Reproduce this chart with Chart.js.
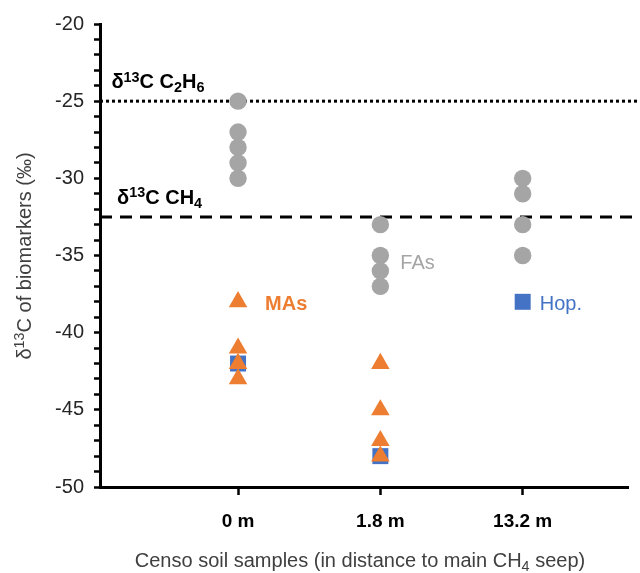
<!DOCTYPE html>
<html>
<head>
<meta charset="utf-8">
<script src="https://cdn.jsdelivr.net/npm/chart.js@4.4.1/dist/chart.umd.min.js"></script>
<style>
  html, body { margin: 0; padding: 0; background: #fff; }
  #wrap { width: 640px; height: 573px; }
</style>
</head>
<body>
<div id="wrap"><canvas id="chart"></canvas></div>
<script>
// Dados
const sites = ["0 m", "1.8 m", "13.2 m"];
const sitePos = [1, 2, 3];

const faSite = [1, 1, 1, 1, 1, 2, 2, 2, 2, 3, 3, 3, 3];
const faValues = [-25, -27, -28, -29, -30, -33, -35, -36, -37, -30, -31, -33, -35];

const maSite = [1, 1, 1, 1, 2, 2, 2, 2];
const maValues = [-38, -41, -42, -43, -42, -45, -47, -48];

const hopSite = [1, 2, 3];
const hopValues = [-42, -48, -38];

const ethaneLine = -25;
const methaneLine = -32.5;

const yTicks = [-20, -25, -30, -35, -40, -45, -50];

const GRAY = "#A5A5A5";
const ORANGE = "#ED7D31";
const BLUE = "#4472C4";
const FONT = "'Liberation Sans', Arial, sans-serif";
const X_MIN = 0.03;
const X_MAX = 3.74;
const LINE_END = 3.82; // linhas de referencia passam um pouco do eixo

function pontos(xs, ys) {
  return xs.map((x, i) => ({ x: x, y: ys[i] }));
}

// Desenha texto com sobrescrito / subscrito
function larguraRica(ctx, partes, size, weight) {
  let total = 0;
  partes.forEach(([t, modo]) => {
    const s = modo ? size * 0.72 : size;
    ctx.font = `${weight} ${s}px ${FONT}`;
    total += ctx.measureText(t).width;
  });
  return total;
}

function textoRico(ctx, partes, x, y, size, weight, color) {
  ctx.save();
  ctx.fillStyle = color;
  ctx.textBaseline = "alphabetic";
  ctx.textAlign = "left";
  let cx = x;
  partes.forEach(([t, modo]) => {
    const s = modo ? size * 0.72 : size;
    ctx.font = `${weight} ${s}px ${FONT}`;
    let dy = 0;
    if (modo === "sup") dy = -size * 0.33;
    if (modo === "sub") dy = size * 0.18;
    ctx.fillText(t, cx, y + dy);
    cx += ctx.measureText(t).width;
  });
  ctx.restore();
}

const anotacoes = {
  id: "anotacoes",
  afterDraw(chart) {
    const ctx = chart.ctx;
    const xs = chart.scales.x;
    const ys = chart.scales.y;
    const px = (v) => xs.getPixelForValue(v);
    const py = (v) => ys.getPixelForValue(v);

    textoRico(ctx, [["δ", ""], ["13", "sup"], ["C C", ""], ["2", "sub"], ["H", ""], ["6", "sub"]],
      px(0.11), py(ethaneLine) - 13, 20, "bold", "#000");
    textoRico(ctx, [["δ", ""], ["13", "sup"], ["C CH", ""], ["4", "sub"]],
      px(0.15), py(methaneLine) - 13, 20, "bold", "#000");

    textoRico(ctx, [["MAs", ""]], px(1.19), py(-38) + 8, 20, "bold", ORANGE);
    textoRico(ctx, [["FAs", ""]], px(2.14), py(-35.4) + 7, 20, "normal", GRAY);
    textoRico(ctx, [["Hop.", ""]], px(3.12), py(-38.1) + 7, 20, "normal", BLUE);

    // titulo do eixo x
    const tx = [["Censo soil samples (in distance to main CH", ""], ["4", "sub"], [" seep)", ""]];
    const wx = larguraRica(ctx, tx, 20, "normal");
    textoRico(ctx, tx, 360 - wx / 2, 567, 20, "normal", "#404040");

    // titulo do eixo y
    const ty = [["δ", ""], ["13", "sup"], ["C of biomarkers (‰)", ""]];
    const wy = larguraRica(ctx, ty, 20, "normal");
    ctx.save();
    ctx.translate(31, 256);
    ctx.rotate(-Math.PI / 2);
    textoRico(ctx, ty, -wy / 2, 0, 20, "normal", "#404040");
    ctx.restore();
  }
};

new Chart(document.getElementById("chart").getContext("2d"), {
  type: "scatter",
  data: {
    datasets: [
      {
        label: "MAs",
        data: pontos(maSite, maValues),
        pointStyle: "triangle",
        pointRadius: 10.7,
        pointHoverRadius: 10.7,
        backgroundColor: ORANGE,
        borderColor: ORANGE,
        borderWidth: 0,
      },
      {
        label: "Hop.",
        data: pontos(hopSite, hopValues),
        pointStyle: "rect",
        pointRadius: 11.3,
        pointHoverRadius: 11.3,
        backgroundColor: BLUE,
        borderColor: BLUE,
        borderWidth: 0,
      },
      {
        label: "FAs",
        data: pontos(faSite, faValues),
        pointStyle: "circle",
        pointRadius: 8.7,
        pointHoverRadius: 8.7,
        backgroundColor: GRAY,
        borderColor: GRAY,
        borderWidth: 0,
      },
      {
        label: "C2H6",
        type: "line",
        data: [{ x: X_MIN, y: ethaneLine }, { x: LINE_END, y: ethaneLine }],
        borderColor: "#000",
        borderWidth: 3,
        borderDash: [3, 3],
        pointRadius: 0,
        clip: false,
      },
      {
        label: "CH4",
        type: "line",
        data: [{ x: X_MIN, y: methaneLine }, { x: LINE_END, y: methaneLine }],
        borderColor: "#000",
        borderWidth: 3,
        borderDash: [12, 8],
        pointRadius: 0,
        clip: false,
      },
    ],
  },
  options: {
    responsive: true,
    maintainAspectRatio: false,
    animation: false,
    layout: { padding: { top: 24, right: 12, left: 0, bottom: 0 } },
    plugins: {
      legend: { display: false },
      tooltip: { enabled: false },
    },
    scales: {
      x: {
        type: "linear",
        min: X_MIN,
        max: X_MAX,
        afterBuildTicks: (scale) => {
          scale.ticks = sitePos.map((v) => ({ value: v }));
        },
        afterFit: (scale) => { scale.height = 86; },
        border: { display: true, color: "#000", width: 3 },
        grid: {
          display: true,
          drawOnChartArea: false,
          drawTicks: true,
          tickLength: 8,
          tickWidth: 2.5,
          tickColor: "#000",
        },
        ticks: {
          padding: 15,
          maxRotation: 0,
          autoSkip: false,
          color: "#000",
          font: { family: FONT, size: 19, weight: "bold" },
          callback: (v) => sites[sitePos.indexOf(v)] || "",
        },
      },
      y: {
        type: "linear",
        min: -50,
        max: -20,
        afterBuildTicks: (scale) => {
          const t = [];
          for (let v = -50; v <= -20; v++) t.push({ value: v });
          scale.ticks = t;
        },
        afterFit: (scale) => { scale.width = 100; },
        border: { display: true, color: "#000", width: 3 },
        grid: {
          display: true,
          drawOnChartArea: false,
          drawTicks: true,
          tickLength: 6,
          tickWidth: 2.5,
          tickColor: "#000",
        },
        ticks: {
          padding: 10,
          autoSkip: false,
          color: "#262626",
          font: { family: FONT, size: 20 },
          callback: (v) => (yTicks.includes(v) ? String(v) : ""),
        },
      },
    },
  },
  plugins: [anotacoes],
});
</script>
</body>
</html>
